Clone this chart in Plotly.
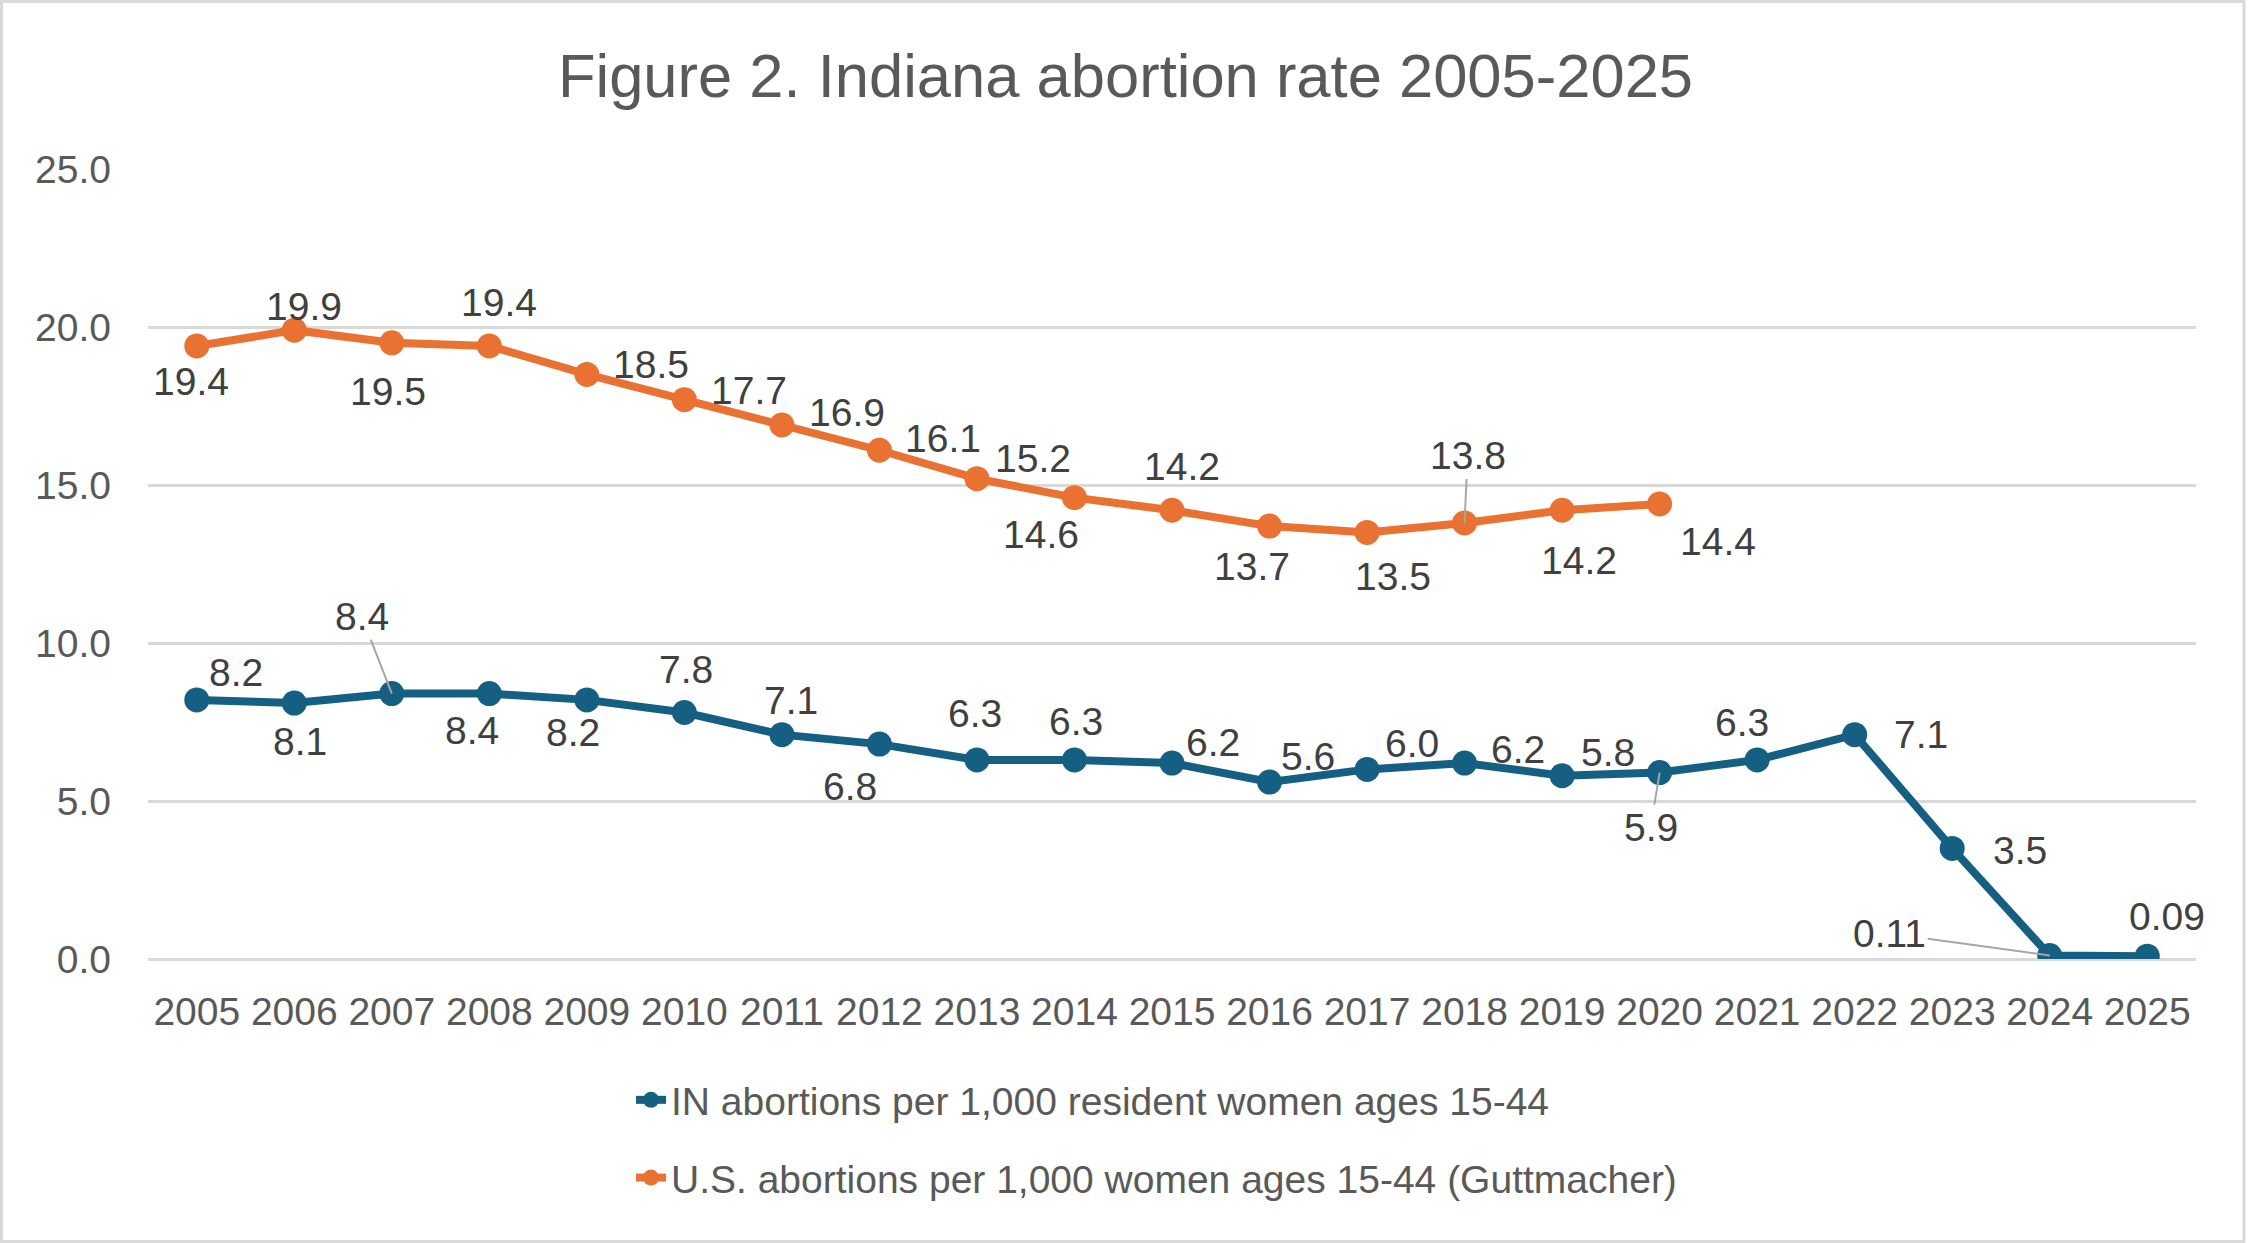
import plotly.graph_objects as go

years = [str(y) for y in range(2005, 2026)]
in_rate = [8.2, 8.1, 8.4, 8.4, 8.2, 7.8, 7.1, 6.8, 6.3, 6.3, 6.2, 5.6, 6.0, 6.2, 5.8, 5.9, 6.3, 7.1, 3.5, 0.11, 0.09]
in_labels = ["8.2", "8.1", "8.4", "8.4", "8.2", "7.8", "7.1", "6.8", "6.3", "6.3", "6.2", "5.6", "6.0", "6.2", "5.8", "5.9", "6.3", "7.1", "3.5", "0.11", "0.09"]
us_years = years[:16]
us_rate = [19.4, 19.9, 19.5, 19.4, 18.5, 17.7, 16.9, 16.1, 15.2, 14.6, 14.2, 13.7, 13.5, 13.8, 14.2, 14.4]
us_labels = ["%.1f" % v for v in us_rate]

series_names = ["IN abortions per 1,000 resident women ages 15-44",
                "U.S. abortions per 1,000 women ages 15-44 (Guttmacher)"]

# label pixel offsets (dx right, dy down) from each point; leader flag
in_off = [(39, -27, 0), (6, 38, 0), (-30, -77, 1), (-17, 37, 0), (-14, 33, 0), (2, -43, 0), (9, -34, 0),
          (-29, 42, 0), (-2, -46, 0), (2, -38, 0), (41, -21, 0), (38, -26, 0), (45, -26, 0), (53, -14, 0),
          (46, -23, 0), (-9, 55, 1), (-15, -37, 0), (66, 0, 0), (68, 2, 0), (-160, -22, 1), (20, -40, 0)]
us_off = [(-6, 36, 0), (10, -24, 0), (-4, 49, 0), (10, -43, 0), (64, -10, 0), (65, -9, 0), (65, -12, 0),
          (64, -12, 0), (56, -20, 0), (-33, 37, 0), (10, -44, 0), (-18, 40, 0), (26, 44, 0), (3, -67, 1),
          (17, 50, 0), (58, 38, 0)]

BLUE = "#156082"
ORANGE = "#E97132"
FAMILY = "Liberation Sans, Arial, sans-serif"
FS = 39
LABEL_FONT = dict(family=FAMILY, size=FS, color="#404040")

fig = go.Figure()
fig.add_trace(go.Scatter(x=years, y=in_rate, name=series_names[0], mode="lines+markers",
                         line=dict(color=BLUE, width=8), marker=dict(color=BLUE, size=25),
                         legendgroup="a", hoverinfo="skip"))
fig.add_trace(go.Scatter(x=us_years, y=us_rate, name=series_names[1], mode="lines+markers",
                         line=dict(color=ORANGE, width=8), marker=dict(color=ORANGE, size=25),
                         legendgroup="b", hoverinfo="skip"))

annotations = []
for xs, ys, labs, offs in [(years, in_rate, in_labels, in_off), (us_years, us_rate, us_labels, us_off)]:
    for x, y, t, (dx, dy, lead) in zip(xs, ys, labs, offs):
        xi = years.index(x)  # category index on the x axis
        if lead:
            annotations.append(dict(x=xi, y=y, xref="x", yref="y", text=t, showarrow=True,
                                    ax=dx, ay=dy, arrowhead=0, arrowwidth=2, arrowcolor="#A6A6A6",
                                    standoff=0, font=LABEL_FONT))
        else:
            annotations.append(dict(x=xi, y=y, xref="x", yref="y", text=t, showarrow=False,
                                    xshift=dx, yshift=-dy, font=LABEL_FONT))

PW, PH, L, B = 2048, 790, 148, 284
fig.add_shape(type="rect", xref="paper", yref="paper",
              x0=(1.5 - L) / PW, x1=(2244 - L) / PW,
              y0=(1243 - B - 1241.5) / PH, y1=(1243 - B - 1.5) / PH,
              line=dict(color="#D9D9D9", width=3), fillcolor="rgba(0,0,0,0)", layer="below")

fig.update_layout(
    width=2251, height=1243,
    margin=dict(l=L, r=55, t=169, b=B),
    paper_bgcolor="white", plot_bgcolor="white",
    font=dict(family=FAMILY, color="#595959"),
    title=dict(text="Figure 2. Indiana abortion rate 2005-2025", x=0.5, xanchor="center",
               xref="container", y=1 - 75 / 1243, yanchor="middle",
               font=dict(size=61.5, color="#595959")),
    xaxis=dict(type="category", range=[-0.5, 20.5], showgrid=False, showline=False, ticks="",
               tickfont=dict(size=FS, color="#595959"), ticklabelstandoff=26),
    yaxis=dict(range=[0, 25], dtick=5, tickformat=".1f", showgrid=True, gridcolor="#D9D9D9",
               gridwidth=2.7, zeroline=True, zerolinecolor="#D9D9D9", zerolinewidth=2.7,
               showline=False, ticks="", tickfont=dict(size=FS, color="#595959"),
               ticklabelstandoff=36),
    showlegend=True,
    legend=dict(orientation="v", x=(631 - L) / PW, xanchor="left", y=(959 - 1068) / PH, yanchor="top",
                font=dict(size=FS, color="#595959"), tracegroupgap=24, bgcolor="rgba(0,0,0,0)"),
    annotations=annotations,
)

fig.write_html("out.html")
